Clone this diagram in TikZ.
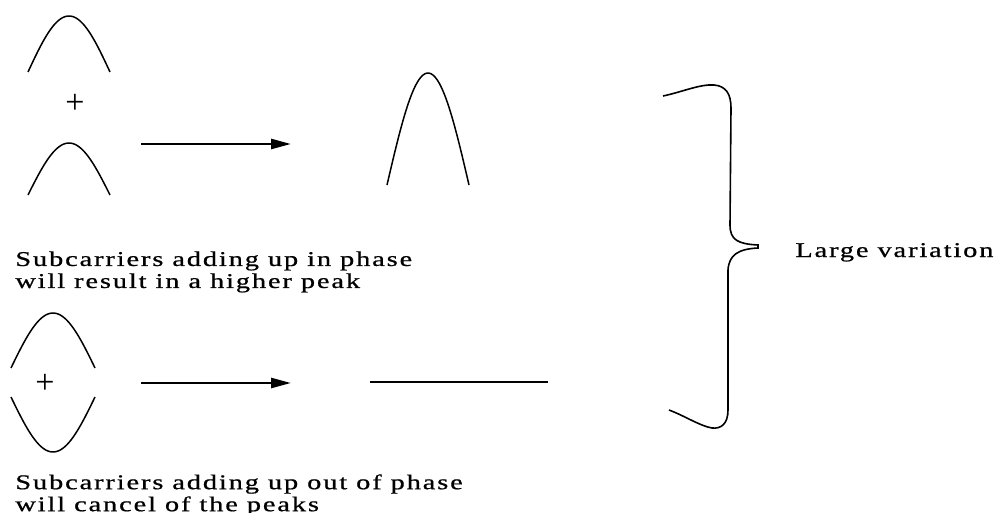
\documentclass[tikz,border=0pt]{standalone}
\usepackage{fontspec}
\newfontfamily\rotfont[FakeStretch=1.35,LetterSpace=9,FakeBold=0.8]{Liberation Serif}
\newfontfamily\maisfont{Liberation Serif}
\usetikzlibrary{arrows.meta}
\tikzset{
  onda/.style={draw=black,line width=0.75pt},
  seta/.style={draw=black,line width=1.3pt,-{Triangle[length=10pt,width=5pt]}},
  linha/.style={draw=black,line width=0.6pt},
  chave/.style={draw=black,line width=0.8pt},
  rot/.style={font=\rotfont\fontsize{10.5}{11}\selectfont,align=left,inner sep=0pt,anchor=north west},
  mais/.style={font=\maisfont\fontsize{17}{17}\selectfont,inner sep=0pt},
}

\begin{document}
\begin{tikzpicture}[x=0.5pt,y=-0.5pt]
  \useasboundingbox (0,0) rectangle (995,513);
  % em fase: duas ondas somadas
  \draw[onda] plot[domain=-90:90,samples=40,smooth] ({69+41*\x/90},{72-56*cos(\x)});
  \node[mais] (soma1) at (75,104) {+};
  \draw[onda] plot[domain=-90:90,samples=40,smooth] ({69+41*\x/90},{195-52*cos(\x)});
  \coordinate (s1a) at (141,144); \coordinate (s1b) at (291,144);
  \draw[seta] (s1a) -- (s1b);
  \draw[onda] plot[domain=-90:90,samples=40,smooth] ({428+41*\x/90},{185-112*cos(\x)});
  \node[rot] (txtfase) at (15,251) {Subcarriers adding up in phase\\will result in a higher peak};
  % fora de fase: ondas opostas
  \draw[onda] plot[domain=-90:90,samples=40,smooth] ({53+42*\x/90},{368-55*cos(\x)});
  \node[mais] (soma2) at (45,384) {+};
  \draw[onda] plot[domain=-90:90,samples=40,smooth] ({53+42*\x/90},{397+55*cos(\x)});
  \coordinate (s2a) at (141,383); \coordinate (s2b) at (291,383);
  \draw[seta] (s2a) -- (s2b);
  \coordinate (plano1) at (370,382); \coordinate (plano2) at (548,382);
  \draw[linha] (plano1) -- (plano2);
  \node[rot] (txtfora) at (15,474) {Subcarriers adding up out of phase\\will cancel of the peaks};
  % chave
  \draw[chave] (663,96) .. controls (682,92) and (700,84) .. (714,85)
    .. controls (726,86) and (731,94) .. (731,108) -- (730,225)
    .. controls (730,240) and (738,244) .. (758,245) -- (758,248)
    .. controls (738,249) and (729,255) .. (728,270) -- (728,410)
    .. controls (728,424) and (721,429) .. (712,428)
    .. controls (700,426) and (685,416) .. (669,410);
  \node[rot,anchor=base west] (varia) at (795,257) {Large variation};
\end{tikzpicture}
\end{document}
